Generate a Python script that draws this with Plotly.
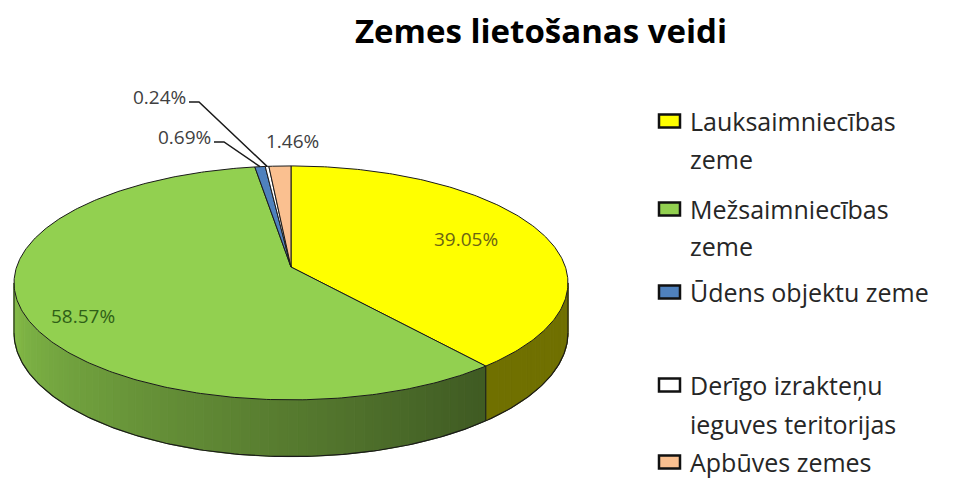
import numpy as np
import plotly.graph_objects as go

# ---------------- data ----------------
categories = ["Lauksaimniecības zeme", "Mežsaimniecības zeme", "Ūdens objektu zeme",
              "Derīgo izrakteņu ieguves teritorijas", "Apbūves zemes"]
values = [39.05, 58.57, 0.69, 0.24, 1.46]
legend_lines = [["Lauksaimniecības", "zeme"], ["Mežsaimniecības", "zeme"],
                ["Ūdens objektu zeme"], ["Derīgo izrakteņu", "ieguves teritorijas"],
                ["Apbūves zemes"]]
title_text = "Zemes lietošanas veidi"

# ---------------- style ----------------
top_colors = ["#FFFF00", "#92D050", "#4F81BD", "#FFFFFF", "#FAC090"]
label_colors = ["#6B6414", "#2F5F17", "#404040", "#404040", "#404040"]
W, H = 972, 479
OFF = 8                    # page body margin
CX, CY = 291.0, 267.0      # pie apex in page pixels
RX, RY = 274.4, 114.8      # radii
P = 0.136                  # perspective factor
D = 49.0                   # depth
LINE = "#1A1A1A"


def proj(theta, r=1.0, h=0.0):
    theta = np.asarray(theta, dtype=float)
    u = r * np.sin(theta)
    v = r * np.cos(theta)
    den = 1.0 + P * v
    return CX + RX * u / den, CY - RY * v / den + h * D / den


def hex2rgb(h):
    h = h.lstrip("#")
    return tuple(int(h[i:i + 2], 16) for i in (0, 2, 4))


def shade(col, f):
    r, g, b = hex2rgb(col)
    return "rgb(%d,%d,%d)" % (min(255, round(r * f)), min(255, round(g * f)), min(255, round(b * f)))


def side_factor(th):
    return 0.44 + 0.48 * float(np.clip((th - 2.5) / 2.08, 0.0, 1.0))


total = float(sum(values))
fracs = [v / total for v in values]
cum = np.concatenate([[0.0], np.cumsum(fracs)])
angles = 2 * np.pi * cum

fig = go.Figure()

# ---------------- sides ----------------
A0 = np.arccos(-P)
A1 = 2 * np.pi - A0
for i, col in enumerate(top_colors):
    a, b = max(angles[i], A0), min(angles[i + 1], A1)
    if b <= a:
        continue
    n = max(1, int((b - a) / 0.03))
    edges = np.linspace(a, b, n + 1)
    for k in range(n):
        t = np.linspace(edges[k], edges[k + 1], 4)
        xt, yt = proj(t)
        xb, yb = proj(t[::-1], h=1.0)
        c = shade(col, side_factor(0.5 * (edges[k] + edges[k + 1])))
        fig.add_trace(go.Scatter(x=np.concatenate([xt, xb, xt[:1]]),
                                 y=np.concatenate([yt, yb, yt[:1]]),
                                 mode="lines", fill="toself", fillcolor=c,
                                 line=dict(color=c, width=1),
                                 hoverinfo="skip", showlegend=False))

# side outlines: bottom rim and vertical edges
tb = np.linspace(A0, A1, 200)
xb, yb = proj(tb, h=1.0)
fig.add_trace(go.Scatter(x=xb, y=yb, mode="lines", line=dict(color=LINE, width=1.2),
                         hoverinfo="skip", showlegend=False))
vert = [A0, A1] + [a for a in angles[1:-1] if A0 < a < A1]
for a in vert:
    x0, y0 = proj(a)
    x1, y1 = proj(a, h=1.0)
    fig.add_trace(go.Scatter(x=[x0, x1], y=[y0, y1], mode="lines",
                             line=dict(color=LINE, width=1), hoverinfo="skip",
                             showlegend=False))

# ---------------- top faces ----------------
for i, col in enumerate(top_colors):
    n = max(3, int((angles[i + 1] - angles[i]) * 80))
    t = np.linspace(angles[i], angles[i + 1], n)
    xr, yr = proj(t)
    xs = np.concatenate([[CX], xr, [CX]])
    ys = np.concatenate([[CY], yr, [CY]])
    fig.add_trace(go.Scatter(x=xs, y=ys, mode="lines", fill="toself", fillcolor=col,
                             line=dict(color=LINE, width=1), name=categories[i],
                             hoverinfo="skip", showlegend=False))

# ---------------- data labels ----------------
pct = ["%.2f%%" % v for v in values]
font_lbl = "Open Sans"
LBL = 19
annotations = []
inside = {0: (0.70, 0, -2), 1: (0.78, -4, 11)}
for i, (r, dx, dy) in inside.items():
    mid = 0.5 * (angles[i] + angles[i + 1])
    x, y = proj(mid, r=r)
    annotations.append(dict(x=float(x) + dx, y=float(y) + dy, xref="x", yref="y",
                            text=pct[i], showarrow=False,
                            font=dict(family=font_lbl, size=LBL, color=label_colors[i])))
outside = {2: (214, 142), 3: (189, 102)}
for i, (lx, ly) in outside.items():
    mid = 0.5 * (angles[i] + angles[i + 1])
    ex, ey = proj(mid)
    fig.add_trace(go.Scatter(x=[lx, lx + 10, float(ex)], y=[ly, ly, float(ey)],
                             mode="lines", line=dict(color=LINE, width=1.5),
                             hoverinfo="skip", showlegend=False))
    annotations.append(dict(x=lx - 1, y=ly - 5, xref="x", yref="y", xanchor="right",
                            text=pct[i], showarrow=False,
                            font=dict(family=font_lbl, size=LBL, color=label_colors[i])))
annotations.append(dict(x=292, y=141, xref="x", yref="y", text=pct[4], showarrow=False,
                        font=dict(family=font_lbl, size=LBL, color=label_colors[4])))

# ---------------- legend (manual) ----------------
leg_y = [[121, 159], [209, 246], [292], [385, 424], [462]]
shapes = []
for i, lines in enumerate(leg_y):
    y0 = lines[0]
    shapes.append(dict(type="rect", xref="x", yref="y", x0=659, x1=680, y0=y0 - 6.5,
                       y1=y0 + 6.5, fillcolor=top_colors[i],
                       line=dict(color="#111111", width=2.5)))
    for j, yy in enumerate(lines):
        annotations.append(dict(x=688, y=yy, xref="x", yref="y", xanchor="left",
                                yanchor="middle", text=legend_lines[i][j], showarrow=False,
                                font=dict(family="Open Sans", size=25, color="#262626")))

fig.update_layout(
    width=W, height=H, margin=dict(l=0, r=0, t=0, b=0),
    paper_bgcolor="white", plot_bgcolor="white",
    title=dict(text="<b>%s</b>" % title_text, x=(541 - OFF) / W, xanchor="center",
               y=1 - (31 - OFF) / H, yanchor="middle",
               font=dict(family="Open Sans", size=33, color="#000000")),
    xaxis=dict(range=[OFF, W + OFF], visible=False, fixedrange=True),
    yaxis=dict(range=[H + OFF, OFF], visible=False, fixedrange=True),
    annotations=annotations, shapes=shapes, showlegend=False,
)

fig.write_html("out.html")
